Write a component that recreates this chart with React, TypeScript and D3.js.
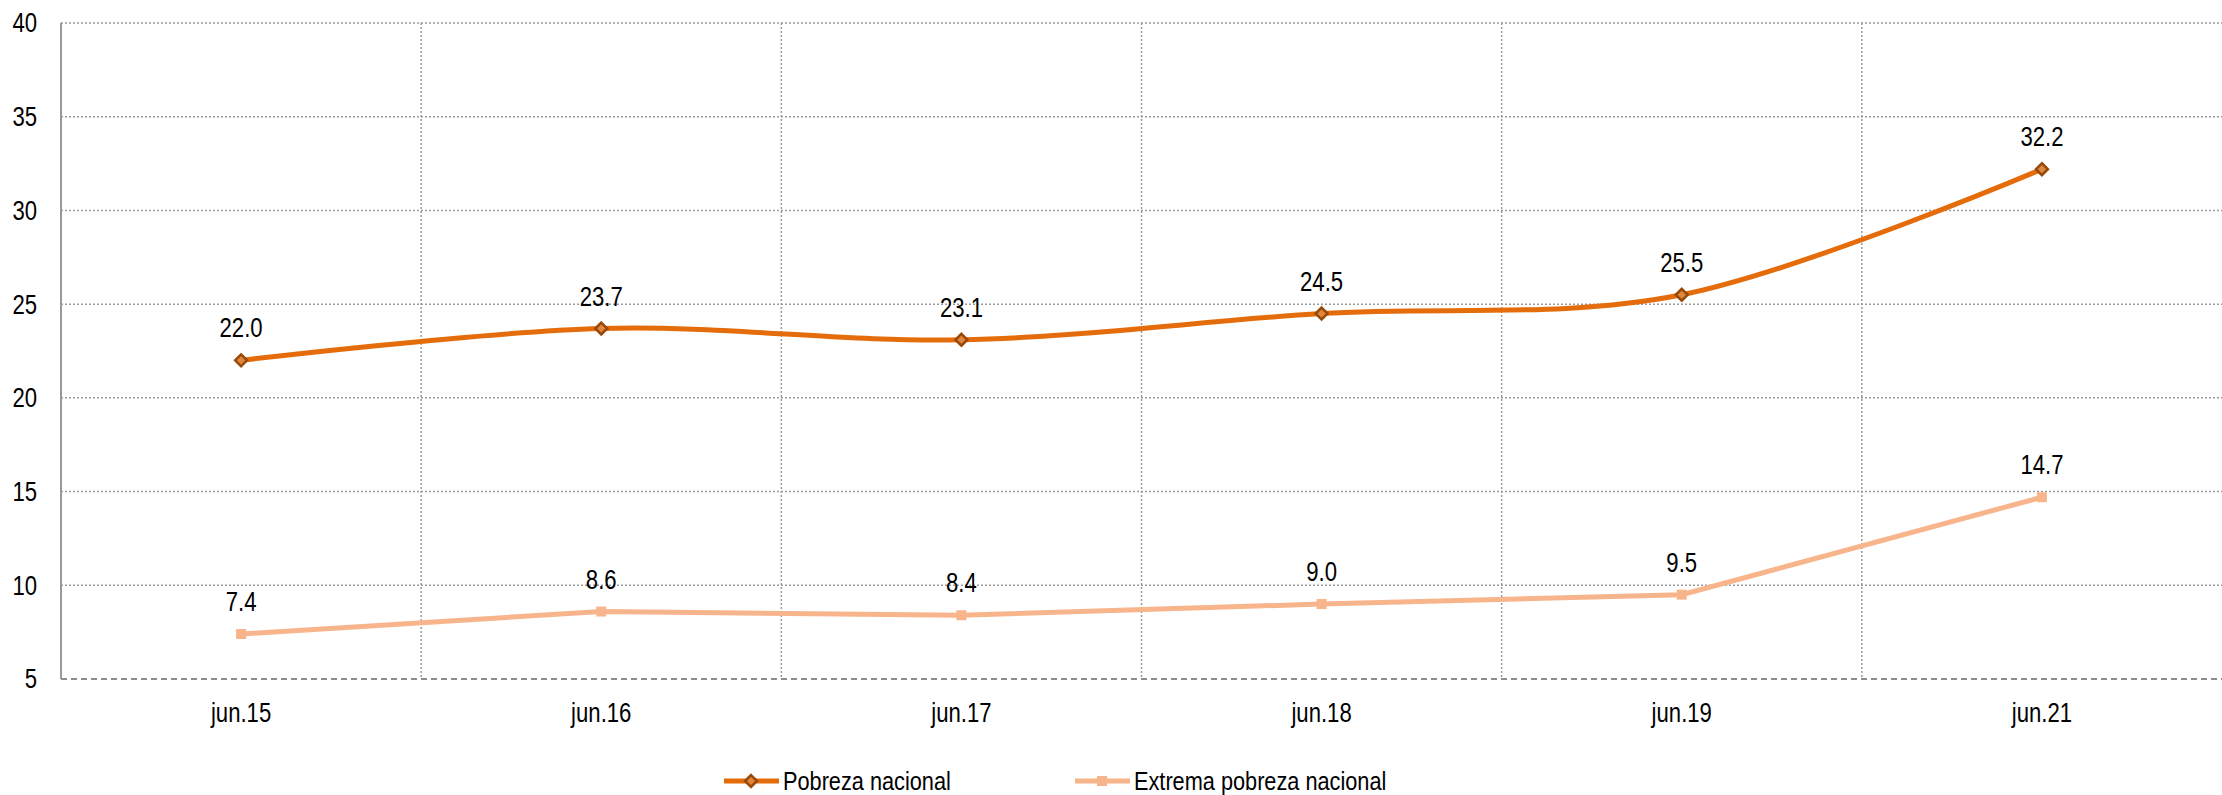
import { useEffect, useRef } from 'react';
import * as d3 from 'd3';

// datos
const categories = ['jun.15', 'jun.16', 'jun.17', 'jun.18', 'jun.19', 'jun.21'];
const pobreza = [22.0, 23.7, 23.1, 24.5, 25.5, 32.2];
const extrema = [7.4, 8.6, 8.4, 9.0, 9.5, 14.7];
const seriesNames = ['Pobreza nacional', 'Extrema pobreza nacional'];
const yTicks = [5, 10, 15, 20, 25, 30, 35, 40];

const W = 2222;
const H = 795;
// Arial Narrow ≈ Arial comprimida al 82 %
const FONT = '"Liberation Sans", Arial, sans-serif';
const NARROW = 0.82;
const FS = 27;

export default function App() {
  const svgRef = useRef<SVGSVGElement>(null);

  useEffect(() => {
    const svg = d3.select(svgRef.current);
    svg.selectAll('*').remove();

    const left = 61, right = W, top = 23, bottom = 679;

    const x = d3.scaleBand<string>().domain(categories).range([left, right]);
    const y = d3.scaleLinear().domain([5, 40]).range([bottom, top]);
    const cx = (c: string) => (x(c) ?? 0) + x.bandwidth() / 2;
    const at = (px: number, py: number) => `translate(${px},${py}) scale(${NARROW},1)`;

    // ── rejilla ─────────────────────────────
    const grid = svg.append('g');
    grid.selectAll('line.h')
      .data(yTicks.filter(t => t > 5))
      .join('line')
      .attr('x1', left).attr('x2', right)
      .attr('y1', d => y(d)).attr('y2', d => y(d))
      .attr('stroke', '#9a9a9a').attr('stroke-width', 1.5)
      .attr('stroke-dasharray', '2,2');

    grid.selectAll('line.v')
      .data(categories.slice(1))
      .join('line')
      .attr('x1', d => x(d) ?? 0).attr('x2', d => x(d) ?? 0)
      .attr('y1', top).attr('y2', bottom)
      .attr('stroke', '#9a9a9a').attr('stroke-width', 1.5)
      .attr('stroke-dasharray', '2,2');

    // ejes
    svg.append('line')
      .attr('x1', left).attr('x2', right).attr('y1', bottom).attr('y2', bottom)
      .attr('stroke', '#8c8c8c').attr('stroke-width', 2)
      .attr('stroke-dasharray', '6,4');
    svg.append('line')
      .attr('x1', left).attr('x2', left).attr('y1', top).attr('y2', bottom)
      .attr('stroke', '#999').attr('stroke-width', 2);

    // etiquetas eje Y
    svg.append('g').selectAll('text')
      .data(yTicks)
      .join('text')
      .attr('transform', d => at(37, y(d)))
      .attr('dy', '0.35em')
      .attr('text-anchor', 'end')
      .attr('font-family', FONT).attr('font-size', FS)
      .attr('fill', '#000')
      .text(d => d);

    // etiquetas eje X
    svg.append('g').selectAll('text')
      .data(categories)
      .join('text')
      .attr('transform', d => at(cx(d), 722))
      .attr('text-anchor', 'middle')
      .attr('font-family', FONT).attr('font-size', FS)
      .attr('fill', '#000')
      .text(d => d);

    // ── series ──────────────────────────────
    const lineSmooth = d3.line<number>()
      .x((_, i) => cx(categories[i]))
      .y(d => y(d))
      .curve(d3.curveCardinal.tension(0));
    const lineStraight = d3.line<number>()
      .x((_, i) => cx(categories[i]))
      .y(d => y(d));

    svg.append('path')
      .attr('d', lineStraight(extrema))
      .attr('fill', 'none').attr('stroke', '#F8B58B').attr('stroke-width', 5);

    svg.append('path')
      .attr('d', lineSmooth(pobreza))
      .attr('fill', 'none').attr('stroke', '#E46C0A').attr('stroke-width', 5);

    // marcadores
    svg.append('g').selectAll('rect')
      .data(extrema)
      .join('rect')
      .attr('x', (_, i) => cx(categories[i]) - 5)
      .attr('y', d => y(d) - 5)
      .attr('width', 10).attr('height', 10)
      .attr('fill', '#F8B58B');

    const diamond = d3.symbol().type(d3.symbolDiamond2).size(90);
    svg.append('g').selectAll('path')
      .data(pobreza)
      .join('path')
      .attr('d', diamond)
      .attr('transform', (d, i) => `translate(${cx(categories[i])},${y(d)})`)
      .attr('fill', '#E0873F').attr('stroke', '#984807').attr('stroke-width', 2.5);

    // etiquetas de datos
    [pobreza, extrema].forEach(vals => {
      svg.append('g').selectAll('text')
        .data(vals)
        .join('text')
        .attr('transform', (d, i) => at(cx(categories[i]), y(d) - 23))
        .attr('text-anchor', 'middle')
        .attr('font-family', FONT).attr('font-size', FS)
        .attr('fill', '#000')
        .text(d => d.toFixed(1));
    });

    // ── leyenda ─────────────────────────────
    const legend = [
      { name: seriesNames[0], x: 724, color: '#E46C0A', marker: 'diamond' },
      { name: seriesNames[1], x: 1075, color: '#F8B58B', marker: 'square' },
    ];
    const ly = 781;
    const lg = svg.append('g');
    legend.forEach(item => {
      lg.append('line')
        .attr('x1', item.x).attr('x2', item.x + 55)
        .attr('y1', ly).attr('y2', ly)
        .attr('stroke', item.color).attr('stroke-width', 5);
      if (item.marker === 'diamond') {
        lg.append('path')
          .attr('d', diamond)
          .attr('transform', `translate(${item.x + 27},${ly})`)
          .attr('fill', '#E0873F').attr('stroke', '#984807').attr('stroke-width', 2.5);
      } else {
        lg.append('rect')
          .attr('x', item.x + 22).attr('y', ly - 5)
          .attr('width', 10).attr('height', 10)
          .attr('fill', item.color);
      }
      lg.append('text')
        .attr('transform', at(item.x + 59, ly))
        .attr('dy', '0.35em')
        .attr('font-family', FONT).attr('font-size', 26.5)
        .attr('fill', '#000')
        .text(item.name);
    });
  }, []);

  return (
    <svg
      ref={svgRef}
      width={W}
      height={H}
      style={{ position: 'absolute', left: 0, top: 0, background: '#fff', display: 'block' }}
    />
  );
}
